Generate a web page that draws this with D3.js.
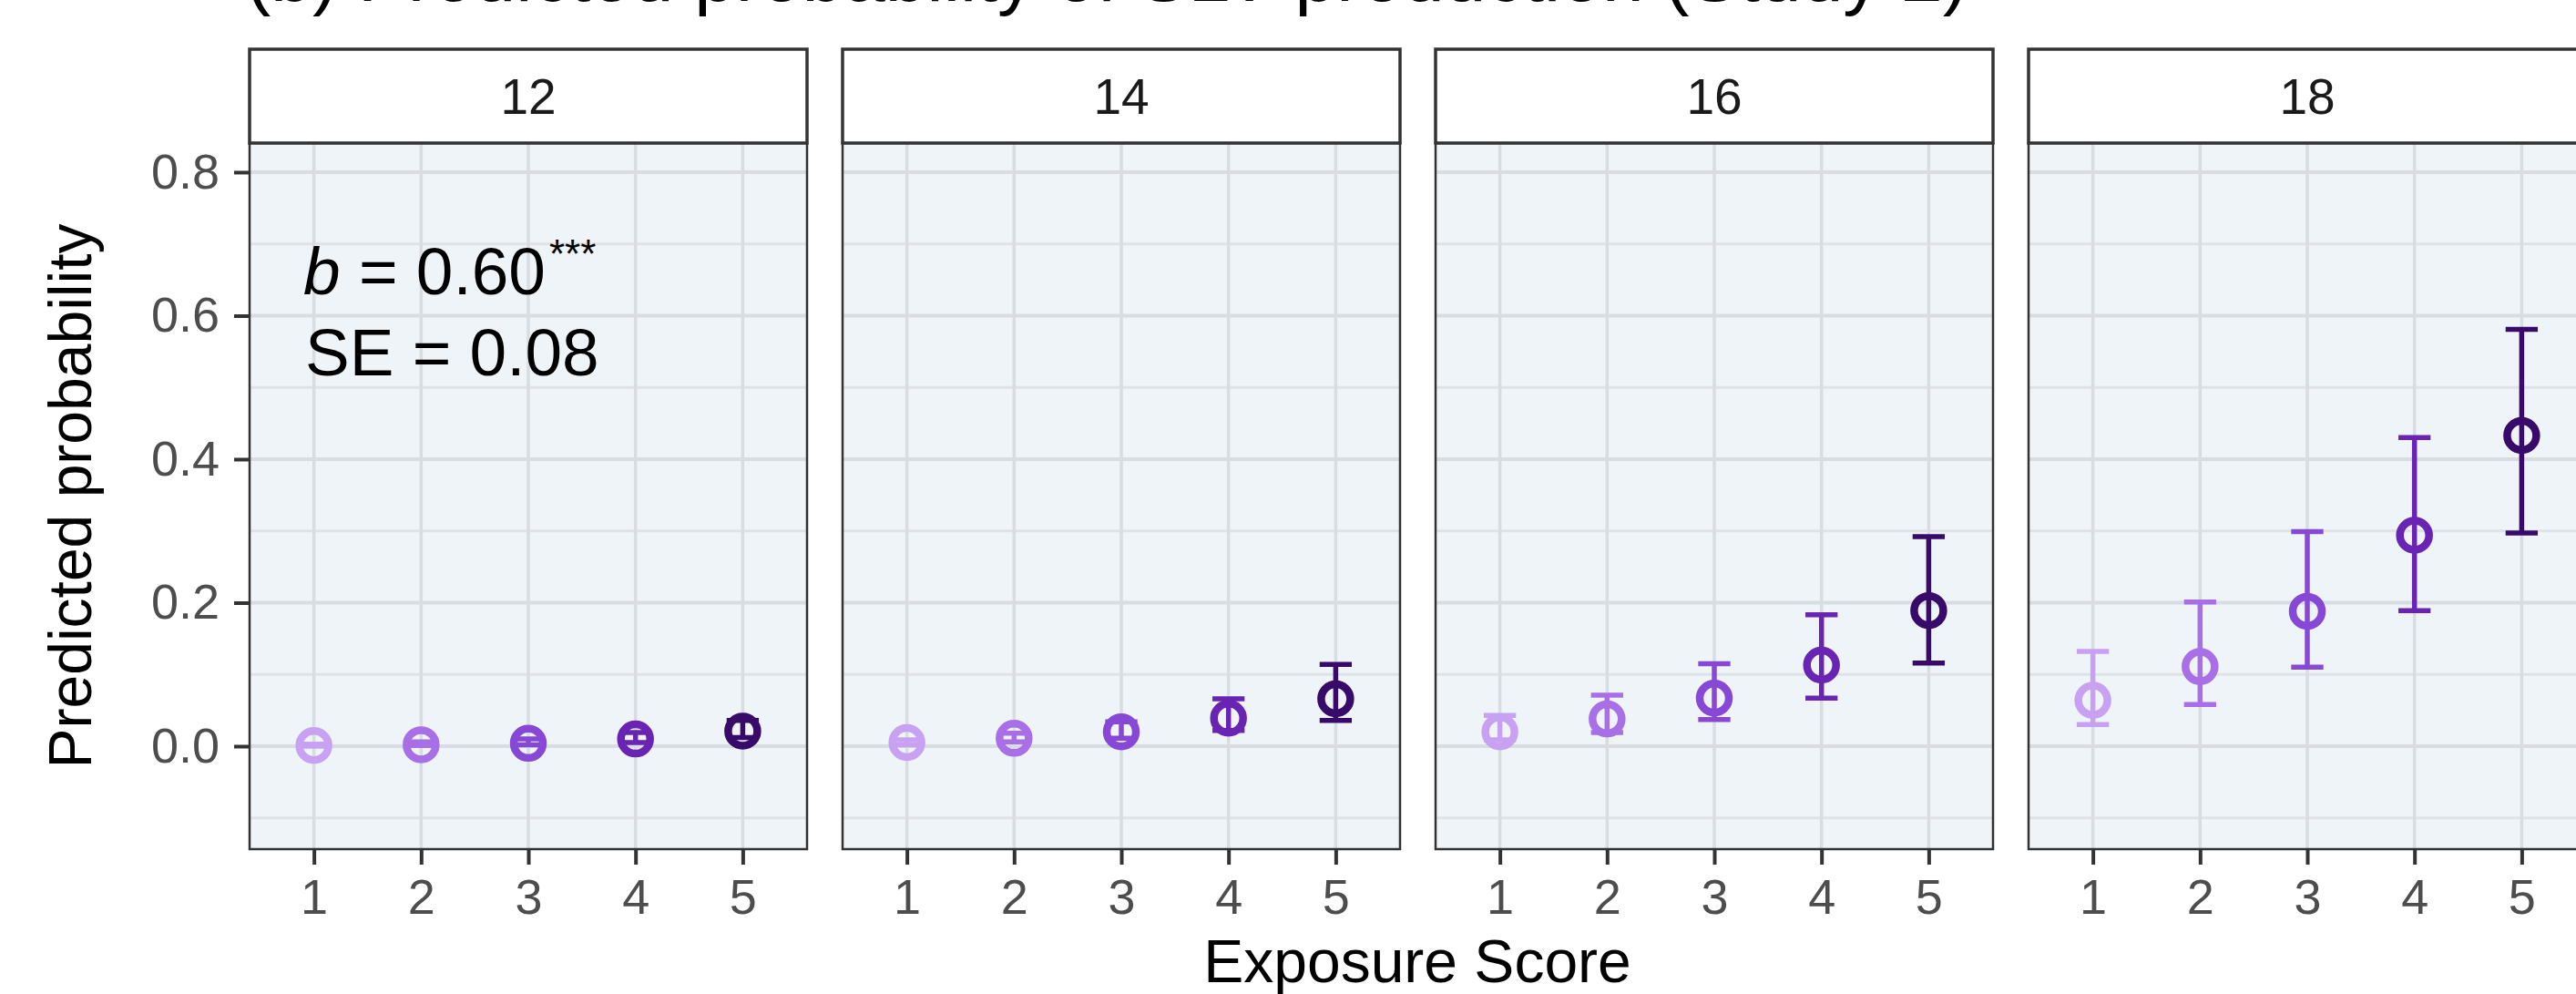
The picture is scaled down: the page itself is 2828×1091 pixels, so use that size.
<!DOCTYPE html>
<html>
<head>
<meta charset="utf-8">
<script src="https://cdn.jsdelivr.net/npm/d3@7"></script>
<style>
  html, body { margin: 0; padding: 0; background: #fff; }
  svg { display: block; }
  text { font-family: "Liberation Sans", Arial, sans-serif; }
</style>
</head>
<body>
<script>
// ---- data ----
const titleText = "(b) Predicted probability of SLV production (Study 2)";
const panels = ["12", "14", "16", "18"];
const exposure = [1, 2, 3, 4, 5];
const levelColors = ["#C9A1F3", "#A86FE7", "#8749D5", "#6924B3", "#380B6B"];

const prob12 = [0.001, 0.002, 0.004, 0.010, 0.021];
const low12  = [0.000, 0.001, 0.002, 0.005, 0.012];
const high12 = [0.003, 0.006, 0.010, 0.019, 0.036];

const prob14 = [0.005, 0.011, 0.020, 0.039, 0.066];
const low14  = [0.002, 0.006, 0.011, 0.022, 0.036];
const high14 = [0.009, 0.018, 0.034, 0.066, 0.114];

const prob16 = [0.020, 0.038, 0.067, 0.113, 0.189];
const low16  = [0.009, 0.019, 0.037, 0.067, 0.116];
const high16 = [0.043, 0.071, 0.115, 0.183, 0.292];

const prob18 = [0.064, 0.111, 0.188, 0.294, 0.433];
const low18  = [0.030, 0.058, 0.110, 0.189, 0.297];
const high18 = [0.132, 0.201, 0.299, 0.430, 0.581];

const yTicks = [0.0, 0.2, 0.4, 0.6, 0.8];
const yMinor = [-0.1, 0.1, 0.3, 0.5, 0.7];
const xTitle = "Exposure Score";
const yTitle = "Predicted probability";

const seriesByPanel = {
  "12": { p: prob12, lo: low12, hi: high12 },
  "14": { p: prob14, lo: low14, hi: high14 },
  "16": { p: prob16, lo: low16, hi: high16 },
  "18": { p: prob18, lo: low18, hi: high18 }
};

// ---- layout ----
const W = 2828, H = 1091;
const panelLeft0 = 274, panelW = 612, panelGap = 39;
const stripTop = 54, panelTop = 157, panelBottom = 932;

const svg = d3.select("body").append("svg").attr("width", W).attr("height", H);

const y = d3.scaleLinear().domain([-0.1435, 0.8406]).range([panelBottom, panelTop]);
const x = d3.scalePoint().domain(exposure).range([0, panelW]).padding(0.6);
const color = d3.scaleOrdinal().domain(exposure).range(levelColors);

// title (cut at top, as in the reference)
svg.append("text")
  .attr("x", 270).attr("y", 1)
  .attr("font-size", 82).attr("fill", "#000")
  .text(titleText);

panels.forEach((name, i) => {
  const left = panelLeft0 + i * (panelW + panelGap);
  const g = svg.append("g").attr("transform", `translate(${left},0)`);
  const s = seriesByPanel[name];

  // background
  g.append("rect").attr("x", 0).attr("y", panelTop)
    .attr("width", panelW).attr("height", panelBottom - panelTop)
    .attr("fill", "#EFF4F8");

  // minor grid
  g.selectAll("line.minor").data(yMinor).enter().append("line")
    .attr("x1", 0).attr("x2", panelW)
    .attr("y1", d => y(d)).attr("y2", d => y(d))
    .attr("stroke", "#DFE3E7").attr("stroke-width", 3);
  // major grid
  g.selectAll("line.majy").data(yTicks).enter().append("line")
    .attr("x1", 0).attr("x2", panelW)
    .attr("y1", d => y(d)).attr("y2", d => y(d))
    .attr("stroke", "#D9DDE2").attr("stroke-width", 4);
  g.selectAll("line.majx").data(exposure).enter().append("line")
    .attr("x1", d => x(d)).attr("x2", d => x(d))
    .attr("y1", panelTop).attr("y2", panelBottom)
    .attr("stroke", "#D9DDE2").attr("stroke-width", 3.5);

  const rows = exposure.map((e, k) => ({ e, p: s.p[k], lo: s.lo[k], hi: s.hi[k] }));
  const capHalf = x.step() * 0.15;

  // error bars
  const eb = g.append("g");
  eb.selectAll("line.v").data(rows).enter().append("line")
    .attr("x1", d => x(d.e)).attr("x2", d => x(d.e))
    .attr("y1", d => y(d.lo)).attr("y2", d => y(d.hi))
    .attr("stroke", d => color(d.e)).attr("stroke-width", 5.5);
  eb.selectAll("line.t").data(rows).enter().append("line")
    .attr("x1", d => x(d.e) - capHalf).attr("x2", d => x(d.e) + capHalf)
    .attr("y1", d => y(d.hi)).attr("y2", d => y(d.hi))
    .attr("stroke", d => color(d.e)).attr("stroke-width", 5.5);
  eb.selectAll("line.b").data(rows).enter().append("line")
    .attr("x1", d => x(d.e) - capHalf).attr("x2", d => x(d.e) + capHalf)
    .attr("y1", d => y(d.lo)).attr("y2", d => y(d.lo))
    .attr("stroke", d => color(d.e)).attr("stroke-width", 5.5);

  // points (open circles)
  g.selectAll("circle.pt").data(rows).enter().append("circle")
    .attr("cx", d => x(d.e)).attr("cy", d => y(d.p)).attr("r", 16)
    .attr("fill", "none").attr("stroke", d => color(d.e)).attr("stroke-width", 8.5);

  // panel border
  g.append("rect").attr("x", 0).attr("y", panelTop)
    .attr("width", panelW).attr("height", panelBottom - panelTop)
    .attr("fill", "none").attr("stroke", "#333").attr("stroke-width", 2.5);

  // strip
  g.append("rect").attr("x", 0).attr("y", stripTop)
    .attr("width", panelW).attr("height", panelTop - stripTop)
    .attr("fill", "#fff").attr("stroke", "#333").attr("stroke-width", 3.5);
  g.append("text")
    .attr("x", panelW / 2).attr("y", (stripTop + panelTop) / 2)
    .attr("dy", "0.36em").attr("text-anchor", "middle")
    .attr("font-size", 55).attr("fill", "#1A1A1A")
    .text(name);

  // x axis
  const xa = g.append("g").attr("transform", `translate(0,${panelBottom})`)
    .call(d3.axisBottom(x).tickSize(17).tickPadding(16));
  xa.select(".domain").remove();
  xa.selectAll(".tick line").attr("stroke", "#333").attr("stroke-width", 4);
  xa.selectAll(".tick text").attr("font-size", 54).attr("fill", "#4D4D4D")
    .attr("font-family", "Liberation Sans, Arial, sans-serif");

  if (i === 0) {
    const ya = g.append("g")
      .call(d3.axisLeft(y).tickValues(yTicks).tickFormat(d3.format(".1f")).tickSize(17).tickPadding(16));
    ya.select(".domain").remove();
    ya.selectAll(".tick line").attr("stroke", "#333").attr("stroke-width", 4);
    ya.selectAll(".tick text").attr("font-size", 54).attr("fill", "#4D4D4D")
      .attr("font-family", "Liberation Sans, Arial, sans-serif");

    // annotation
    const t1 = g.append("text").attr("x", 333 - left).attr("y", 323)
      .attr("font-size", 73).attr("fill", "#000");
    t1.append("tspan").attr("font-style", "italic").text("b");
    t1.append("tspan").text(" = 0.60");
    t1.append("tspan").attr("font-size", 44).attr("dy", -29).attr("dx", 4).text("***");
    g.append("text").attr("x", 335 - left).attr("y", 412)
      .attr("font-size", 73).attr("fill", "#000").text("SE = 0.08");
  }
});

// axis titles
svg.append("text")
  .attr("x", 1556).attr("y", 1078).attr("text-anchor", "middle")
  .attr("font-size", 66).attr("fill", "#000").text(xTitle);
svg.append("text")
  .attr("transform", `translate(100,${(panelTop + panelBottom) / 2}) rotate(-90)`)
  .attr("text-anchor", "middle")
  .attr("font-size", 66).attr("fill", "#000").text(yTitle);
</script>
</body>
</html>
